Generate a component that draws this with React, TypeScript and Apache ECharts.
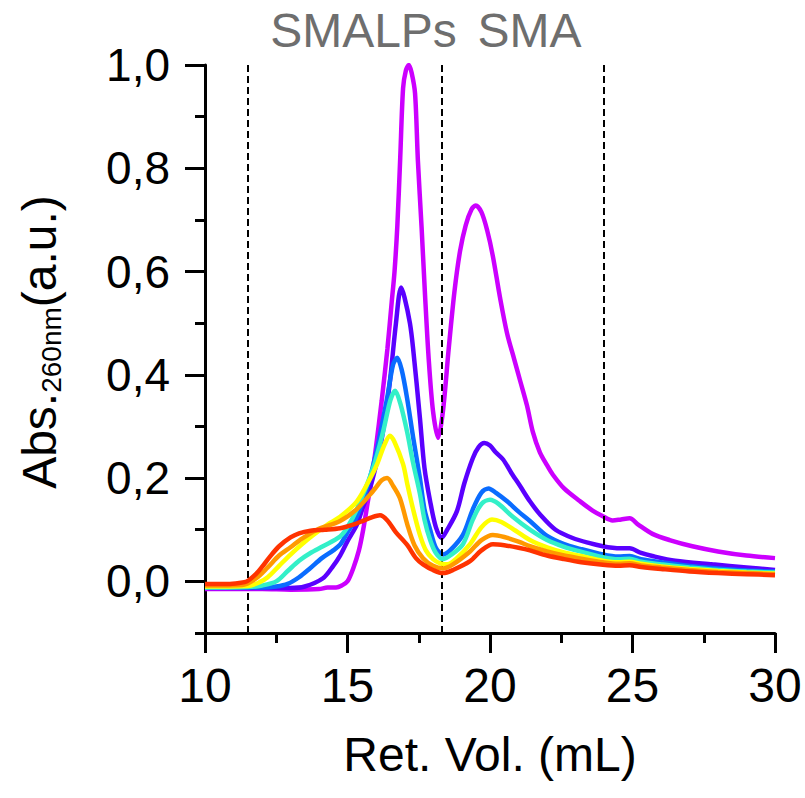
import React, { useEffect, useRef } from "react";
import * as echarts from "echarts";

// ---- Data (x = Ret. Vol. mL, y = Abs.260nm) ----
const xTickLabels = [10, 15, 20, 25, 30];
const yTickLabels = [0, 0.2, 0.4, 0.6, 0.8, 1.0];
const dividerVolumes = [11.5, 18.3, 24.0];
const headerLabels = ["SMALPs", "SMA"];

const magenta: [number, number][] = [
  [10, -0.015], [12, -0.015], [13, -0.016], [14, -0.015], [14.3, -0.012], [14.6, -0.012], [14.8, -0.008],
  [15.0, 0.0], [15.2, 0.025], [15.4, 0.06], [15.55, 0.1], [15.7, 0.15], [15.85, 0.2], [16.0, 0.26],
  [16.2, 0.35], [16.4, 0.45], [16.55, 0.54], [16.65, 0.6], [16.75, 0.69], [16.85, 0.82], [16.95, 0.955],
  [17.05, 0.99], [17.15, 1.0], [17.25, 0.985], [17.37, 0.945], [17.47, 0.815], [17.6, 0.685], [17.72, 0.555],
  [17.85, 0.43], [18.0, 0.33], [18.18, 0.278], [18.35, 0.33], [18.55, 0.45], [18.75, 0.56], [18.95, 0.64],
  [19.15, 0.69], [19.35, 0.72], [19.5, 0.728], [19.7, 0.715], [19.9, 0.68], [20.1, 0.63], [20.35, 0.55],
  [20.6, 0.48], [20.85, 0.43], [21.05, 0.39], [21.3, 0.34], [21.5, 0.29], [21.75, 0.25], [22.0, 0.225],
  [22.2, 0.207], [22.6, 0.18], [23.16, 0.155], [23.6, 0.137], [23.96, 0.126], [24.3, 0.118], [24.6, 0.12],
  [24.9, 0.122], [25.2, 0.11], [25.7, 0.092], [26.3, 0.08], [27.1, 0.068], [28.0, 0.058], [29.0, 0.05], [30, 0.045],
];

const violet: [number, number][] = [
  [10, -0.013], [12, -0.013], [13, -0.013], [13.5, -0.01], [14.14, 0.006], [14.5, 0.03], [14.74, 0.05],
  [15.0, 0.078], [15.33, 0.11], [15.55, 0.145], [15.79, 0.18], [16.14, 0.258], [16.3, 0.31], [16.49, 0.388],
  [16.7, 0.5], [16.88, 0.569], [17.0, 0.55], [17.19, 0.5], [17.3, 0.452], [17.54, 0.317], [17.7, 0.22],
  [17.9, 0.155], [18.1, 0.105], [18.3, 0.084], [18.5, 0.1], [18.84, 0.136], [19.1, 0.19], [19.4, 0.239],
  [19.6, 0.26], [19.8, 0.268], [20.0, 0.263], [20.2, 0.25], [20.46, 0.236], [20.75, 0.21], [21.05, 0.185],
  [21.4, 0.155], [21.75, 0.13], [22.3, 0.1], [22.9, 0.084], [23.5, 0.074], [23.96, 0.068], [24.3, 0.065],
  [24.6, 0.064], [24.9, 0.064], [25.3, 0.055], [25.7, 0.049], [26.5, 0.04], [27.8, 0.033], [29, 0.027], [30, 0.022],
];

const blue: [number, number][] = [
  [10, -0.012], [12, -0.012], [12.5, -0.01], [12.9, -0.005], [13.3, 0.008], [13.68, 0.025], [14.1, 0.045],
  [14.5, 0.06], [14.74, 0.071], [15.0, 0.095], [15.33, 0.126], [15.68, 0.18], [16.04, 0.258], [16.39, 0.355],
  [16.6, 0.42], [16.74, 0.433], [16.9, 0.41], [17.09, 0.355], [17.3, 0.28], [17.54, 0.2], [17.7, 0.14],
  [17.9, 0.1], [18.1, 0.065], [18.35, 0.052], [18.6, 0.06], [19.05, 0.09], [19.4, 0.14], [19.7, 0.172],
  [19.95, 0.18], [20.2, 0.172], [20.6, 0.155], [21.0, 0.135], [21.4, 0.117], [22.0, 0.088], [22.6, 0.072],
  [23.16, 0.063], [23.96, 0.052], [24.5, 0.048], [24.9, 0.049], [25.3, 0.043], [26, 0.037], [27, 0.03],
  [28, 0.025], [29, 0.021], [30, 0.019],
];

const cyan: [number, number][] = [
  [10, -0.012], [11.5, -0.011], [12, -0.008], [12.5, 0.0], [12.9, 0.02], [13.3, 0.04], [13.7, 0.055],
  [14.14, 0.068], [14.74, 0.087], [15.0, 0.105], [15.33, 0.14], [15.9, 0.22], [16.25, 0.29], [16.5, 0.35],
  [16.67, 0.369], [16.85, 0.345], [17.09, 0.29], [17.3, 0.23], [17.54, 0.17], [17.7, 0.12], [17.9, 0.08],
  [18.1, 0.055], [18.35, 0.043], [18.6, 0.05], [19.05, 0.072], [19.4, 0.12], [19.7, 0.15], [20.0, 0.158],
  [20.3, 0.15], [20.8, 0.125], [21.4, 0.1], [22.0, 0.08], [22.6, 0.067], [23.16, 0.058], [23.96, 0.047],
  [24.5, 0.043], [24.9, 0.044], [25.3, 0.038], [26, 0.033], [27, 0.027], [28, 0.022], [29, 0.019], [30, 0.017],
];

const yellow: [number, number][] = [
  [10, -0.01], [11.5, -0.009], [11.9, -0.002], [12.2, 0.008], [12.6, 0.03], [13.0, 0.052], [13.4, 0.072],
  [13.8, 0.09], [14.3, 0.11], [14.74, 0.125], [15.33, 0.155], [15.8, 0.2], [16.04, 0.227], [16.3, 0.265],
  [16.49, 0.282], [16.65, 0.27], [16.95, 0.227], [17.1, 0.188], [17.3, 0.14], [17.54, 0.09], [17.75, 0.06],
  [18.0, 0.043], [18.25, 0.035], [18.5, 0.033], [18.8, 0.043], [19.3, 0.072], [19.7, 0.105], [20.07, 0.12],
  [20.4, 0.115], [20.9, 0.098], [21.4, 0.08], [22.0, 0.066], [22.6, 0.056], [23.2, 0.049], [23.96, 0.04],
  [24.5, 0.037], [24.9, 0.038], [25.3, 0.034], [26, 0.029], [27, 0.024], [28, 0.02], [29, 0.017], [30, 0.015],
];

const orange: [number, number][] = [
  [10, -0.008], [11.3, -0.007], [11.8, 0.006], [12.2, 0.027], [12.6, 0.05], [13.0, 0.066], [13.33, 0.08],
  [13.93, 0.1], [14.74, 0.117], [15.33, 0.14], [15.79, 0.168], [16.0, 0.182], [16.2, 0.196], [16.39, 0.2],
  [16.6, 0.185], [16.84, 0.161], [17.1, 0.11], [17.35, 0.07], [17.65, 0.045], [18.0, 0.03], [18.35, 0.025],
  [18.7, 0.033], [19.3, 0.058], [19.7, 0.08], [20.1, 0.09], [20.5, 0.086], [21.0, 0.077], [21.4, 0.068],
  [22.0, 0.058], [22.6, 0.05], [23.2, 0.044], [23.96, 0.037], [24.5, 0.034], [24.9, 0.035], [25.3, 0.031],
  [26, 0.027], [27, 0.022], [28, 0.018], [29, 0.016], [30, 0.014],
];

const red: [number, number][] = [
  [10, -0.005], [10.8, -0.005], [11.2, -0.003], [11.47, 0.0], [11.8, 0.015], [12.0, 0.028], [12.28, 0.048],
  [12.6, 0.068], [13.0, 0.085], [13.3, 0.093], [13.7, 0.098], [14.2, 0.1], [14.74, 0.103], [15.2, 0.11],
  [15.54, 0.117], [15.85, 0.124], [16.14, 0.128], [16.4, 0.118], [16.7, 0.095], [17.1, 0.07], [17.4, 0.045],
  [17.65, 0.033], [18.0, 0.022], [18.35, 0.016], [18.7, 0.022], [19.3, 0.039], [19.7, 0.06], [20.1, 0.072],
  [20.5, 0.07], [21.0, 0.065], [21.4, 0.06], [22.0, 0.05], [22.6, 0.043], [23.2, 0.037], [23.96, 0.032],
  [24.5, 0.03], [24.9, 0.031], [25.3, 0.028], [26, 0.024], [27, 0.019], [28, 0.016], [29, 0.014], [30, 0.012],
];

const seriesList: { name: string; color: string; data: [number, number][] }[] = [
  { name: "magenta", color: "#cc00ff", data: magenta },
  { name: "violet", color: "#5a00ff", data: violet },
  { name: "blue", color: "#0a6cff", data: blue },
  { name: "cyan", color: "#33f0c8", data: cyan },
  { name: "yellow", color: "#ffff00", data: yellow },
  { name: "orange", color: "#ff9900", data: orange },
  { name: "red", color: "#ff3300", data: red },
];

const FONT = "'Liberation Sans', Arial, sans-serif";
const axisLineStyle = { color: "#000", width: 3 };

export default function App() {
  const ref = useRef<HTMLDivElement>(null);
  useEffect(() => {
    document.body.style.margin = "0";
    if (!ref.current) return;
    const chart = echarts.init(ref.current, undefined, { renderer: "svg" });
    const option: any = {
      animation: false,
      textStyle: { fontFamily: FONT },
      grid: { left: 205, right: 30, top: 65, bottom: 165, containLabel: false },
      xAxis: [
        {
          type: "value", min: 10, max: 30, interval: 2.5, position: "bottom",
          axisLine: { show: true, onZero: false, lineStyle: axisLineStyle },
          axisTick: { show: true, length: 10, lineStyle: axisLineStyle },
          axisLabel: { show: false },
          splitLine: { show: false },
          name: "Ret. Vol. (mL)", nameLocation: "middle", nameGap: 97,
          nameTextStyle: { fontSize: 48, color: "#000", fontFamily: FONT },
        },
        {
          type: "value", min: 10, max: 30, interval: 5, position: "bottom",
          axisLine: { show: false, onZero: false },
          axisTick: { show: true, length: 20, lineStyle: axisLineStyle, customValues: xTickLabels },
          axisLabel: { show: true, fontSize: 48, color: "#000", margin: 28, fontFamily: FONT, customValues: xTickLabels },
          splitLine: { show: false },
        },
      ],
      yAxis: [
        {
          type: "value", min: -0.1, max: 1.0, interval: 0.1, position: "left",
          axisLine: { show: true, onZero: false, lineStyle: axisLineStyle },
          axisTick: { show: true, length: 10, lineStyle: axisLineStyle },
          axisLabel: { show: false },
          splitLine: { show: false },
        },
        {
          type: "value", min: -0.1, max: 1.0, position: "left",
          axisLine: { show: false, onZero: false },
          axisTick: { show: true, length: 20, lineStyle: axisLineStyle, customValues: yTickLabels },
          axisLabel: {
            show: true, fontSize: 46, color: "#000", margin: 35, fontFamily: FONT,
            customValues: yTickLabels,
            formatter: (v: number) => v.toFixed(1).replace(".", ","),
          },
          splitLine: { show: false },
        },
      ],
      graphic: [
        {
          type: "text", x: 363.5, y: 30,
          style: { text: headerLabels[0], fontSize: 48, fontFamily: FONT, fill: "#6e6e6e", align: "center", verticalAlign: "middle" },
        },
        {
          type: "text", x: 529.5, y: 30,
          style: { text: headerLabels[1], fontSize: 48, fontFamily: FONT, fill: "#6e6e6e", align: "center", verticalAlign: "middle" },
        },
        {
          type: "text", x: 39, y: 342, rotation: Math.PI / 2,
          style: {
            text: "{a|Abs.}{s|260nm}{a|(a.u.)}",
            align: "center", verticalAlign: "middle", fill: "#000",
            fontFamily: FONT, fontSize: 48,
            rich: {
              a: { fontSize: 48, fontFamily: FONT, fill: "#000" },
              s: { fontSize: 28, fontFamily: FONT, fill: "#000", padding: [24, 0, 0, 0] },
            },
          },
        },
      ],
      series: seriesList.map((s, i) => ({
        name: s.name,
        type: "line",
        xAxisIndex: 0,
        yAxisIndex: 0,
        data: s.data,
        showSymbol: false,
        smooth: 0.3,
        lineStyle: { color: s.color, width: 4.5 },
        itemStyle: { color: s.color },
        z: 2 + i,
        markLine: i === seriesList.length - 1 ? {
          silent: true,
          symbol: "none",
          label: { show: false },
          lineStyle: { color: "#000", width: 2, type: [7, 4] },
          data: dividerVolumes.map((v) => ({ xAxis: v })),
        } : undefined,
      })),
    };
    chart.setOption(option);
    return () => chart.dispose();
  }, []);
  return <div ref={ref} style={{ width: 805, height: 798 }} />;
}
